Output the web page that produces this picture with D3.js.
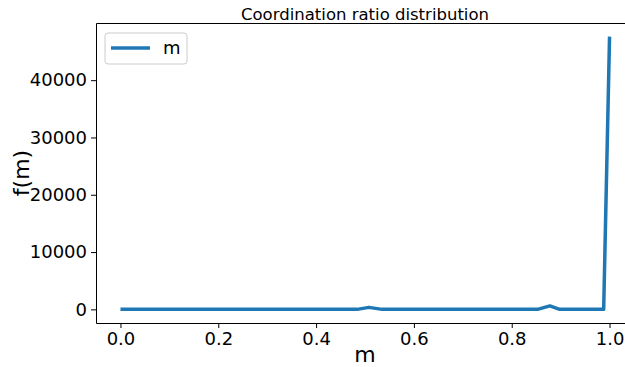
<!DOCTYPE html>
<html>
<head>
  <meta charset="utf-8">
  <title>Coordination ratio distribution</title>
  <style type="text/css">
    body { margin: 0; background: #fff; overflow: hidden; }
    svg { display: block; }
    text { font-family: "DejaVu Sans", sans-serif; fill: #000; }
    .axis text { font-size: 18px; }
    .axis .domain { display: none; }
    .axis .tick line { stroke: #000; stroke-width: 1px; }
  </style>
  <script src="https://cdnjs.cloudflare.com/ajax/libs/d3/7.8.5/d3.min.js"></script>
</head>
<body>
  <script>
    // values
    var mValues = [0, 0.484, 0.508, 0.535, 0.853, 0.878, 0.898, 0.988, 1.0];
    var fValues = [0, 0, 350, 0, 0, 600, 0, 0, 47600];
    var xTicks = [0, 0.2, 0.4, 0.6, 0.8, 1.0];
    var yTicks = [0, 10000, 20000, 30000, 40000];

    var W = 625, H = 367,
      plotL = 96, plotT = 23, plotR = 634, plotB = 323;

    var svg = d3.select('body').append('svg')
      .attr('width', W)
      .attr('height', H);

    var x = d3.scaleLinear().domain([-0.05, 1.05]).range([plotL, plotR]);
    var fMax = d3.max(fValues);
    var y = d3.scaleLinear().domain([-0.05 * fMax, 1.05 * fMax]).range([plotB, plotT]);

    // 軸線
    svg.append('g').classed('axis', true)
      .attr('transform', 'translate(0,' + plotB + ')')
      .call(d3.axisBottom(x).tickValues(xTicks).tickFormat(d3.format('.1f')).tickSizeOuter(0).tickSize(5).tickPadding(4));

    svg.append('g').classed('axis', true)
      .attr('transform', 'translate(' + plotL + ',0)')
      .call(d3.axisLeft(y).tickValues(yTicks).tickFormat(d3.format('d')).tickSizeOuter(0).tickSize(5).tickPadding(4));

    svg.selectAll('.axis text').attr('fill', '#000');

    // spines (the right one falls outside the picture)
    svg.append('path')
      .attr('d', 'M' + W + ',' + (plotT + 0.5) + 'H' + (plotL + 0.5) + 'V' + (plotB + 0.5) + 'H' + W)
      .attr('fill', 'none').attr('stroke', '#000').attr('stroke-width', 1);

    // curve
    var pts = mValues.map(function (m, i) { return [m, fValues[i]]; });
    svg.append('path')
      .datum(pts)
      .attr('fill', 'none')
      .attr('stroke', '#1f77b4')
      .attr('stroke-width', 3.5)
      .attr('stroke-linejoin', 'round')
      .attr('d', d3.line().x(function (d) { return x(d[0]); }).y(function (d) { return y(d[1]); }));

    // title and labels
    svg.append('text')
      .attr('x', (plotL + plotR) / 2).attr('y', 20)
      .attr('text-anchor', 'middle')
      .style('font-size', '16.5px')
      .text('Coordination ratio distribution');

    svg.append('text')
      .attr('x', (plotL + plotR) / 2).attr('y', 362)
      .attr('text-anchor', 'middle')
      .style('font-size', '22px')
      .text('m');

    svg.append('text')
      .attr('transform', 'translate(29,' + (plotT + plotB) / 2 + ') rotate(-90)')
      .attr('text-anchor', 'middle')
      .style('font-size', '22px')
      .text('f(m)');

    // legend
    var lg = svg.append('g');
    lg.append('rect')
      .attr('x', 105).attr('y', 33).attr('width', 82).attr('height', 31)
      .attr('rx', 3)
      .attr('fill', '#fff').attr('fill-opacity', 0.8)
      .attr('stroke', '#ccc').attr('stroke-width', 1);
    lg.append('line')
      .attr('x1', 111).attr('x2', 150).attr('y1', 48).attr('y2', 48)
      .attr('stroke', '#1f77b4').attr('stroke-width', 3.5);
    lg.append('text')
      .attr('x', 163).attr('y', 54)
      .style('font-size', '18px')
      .text('m');
  </script>
</body>
</html>
